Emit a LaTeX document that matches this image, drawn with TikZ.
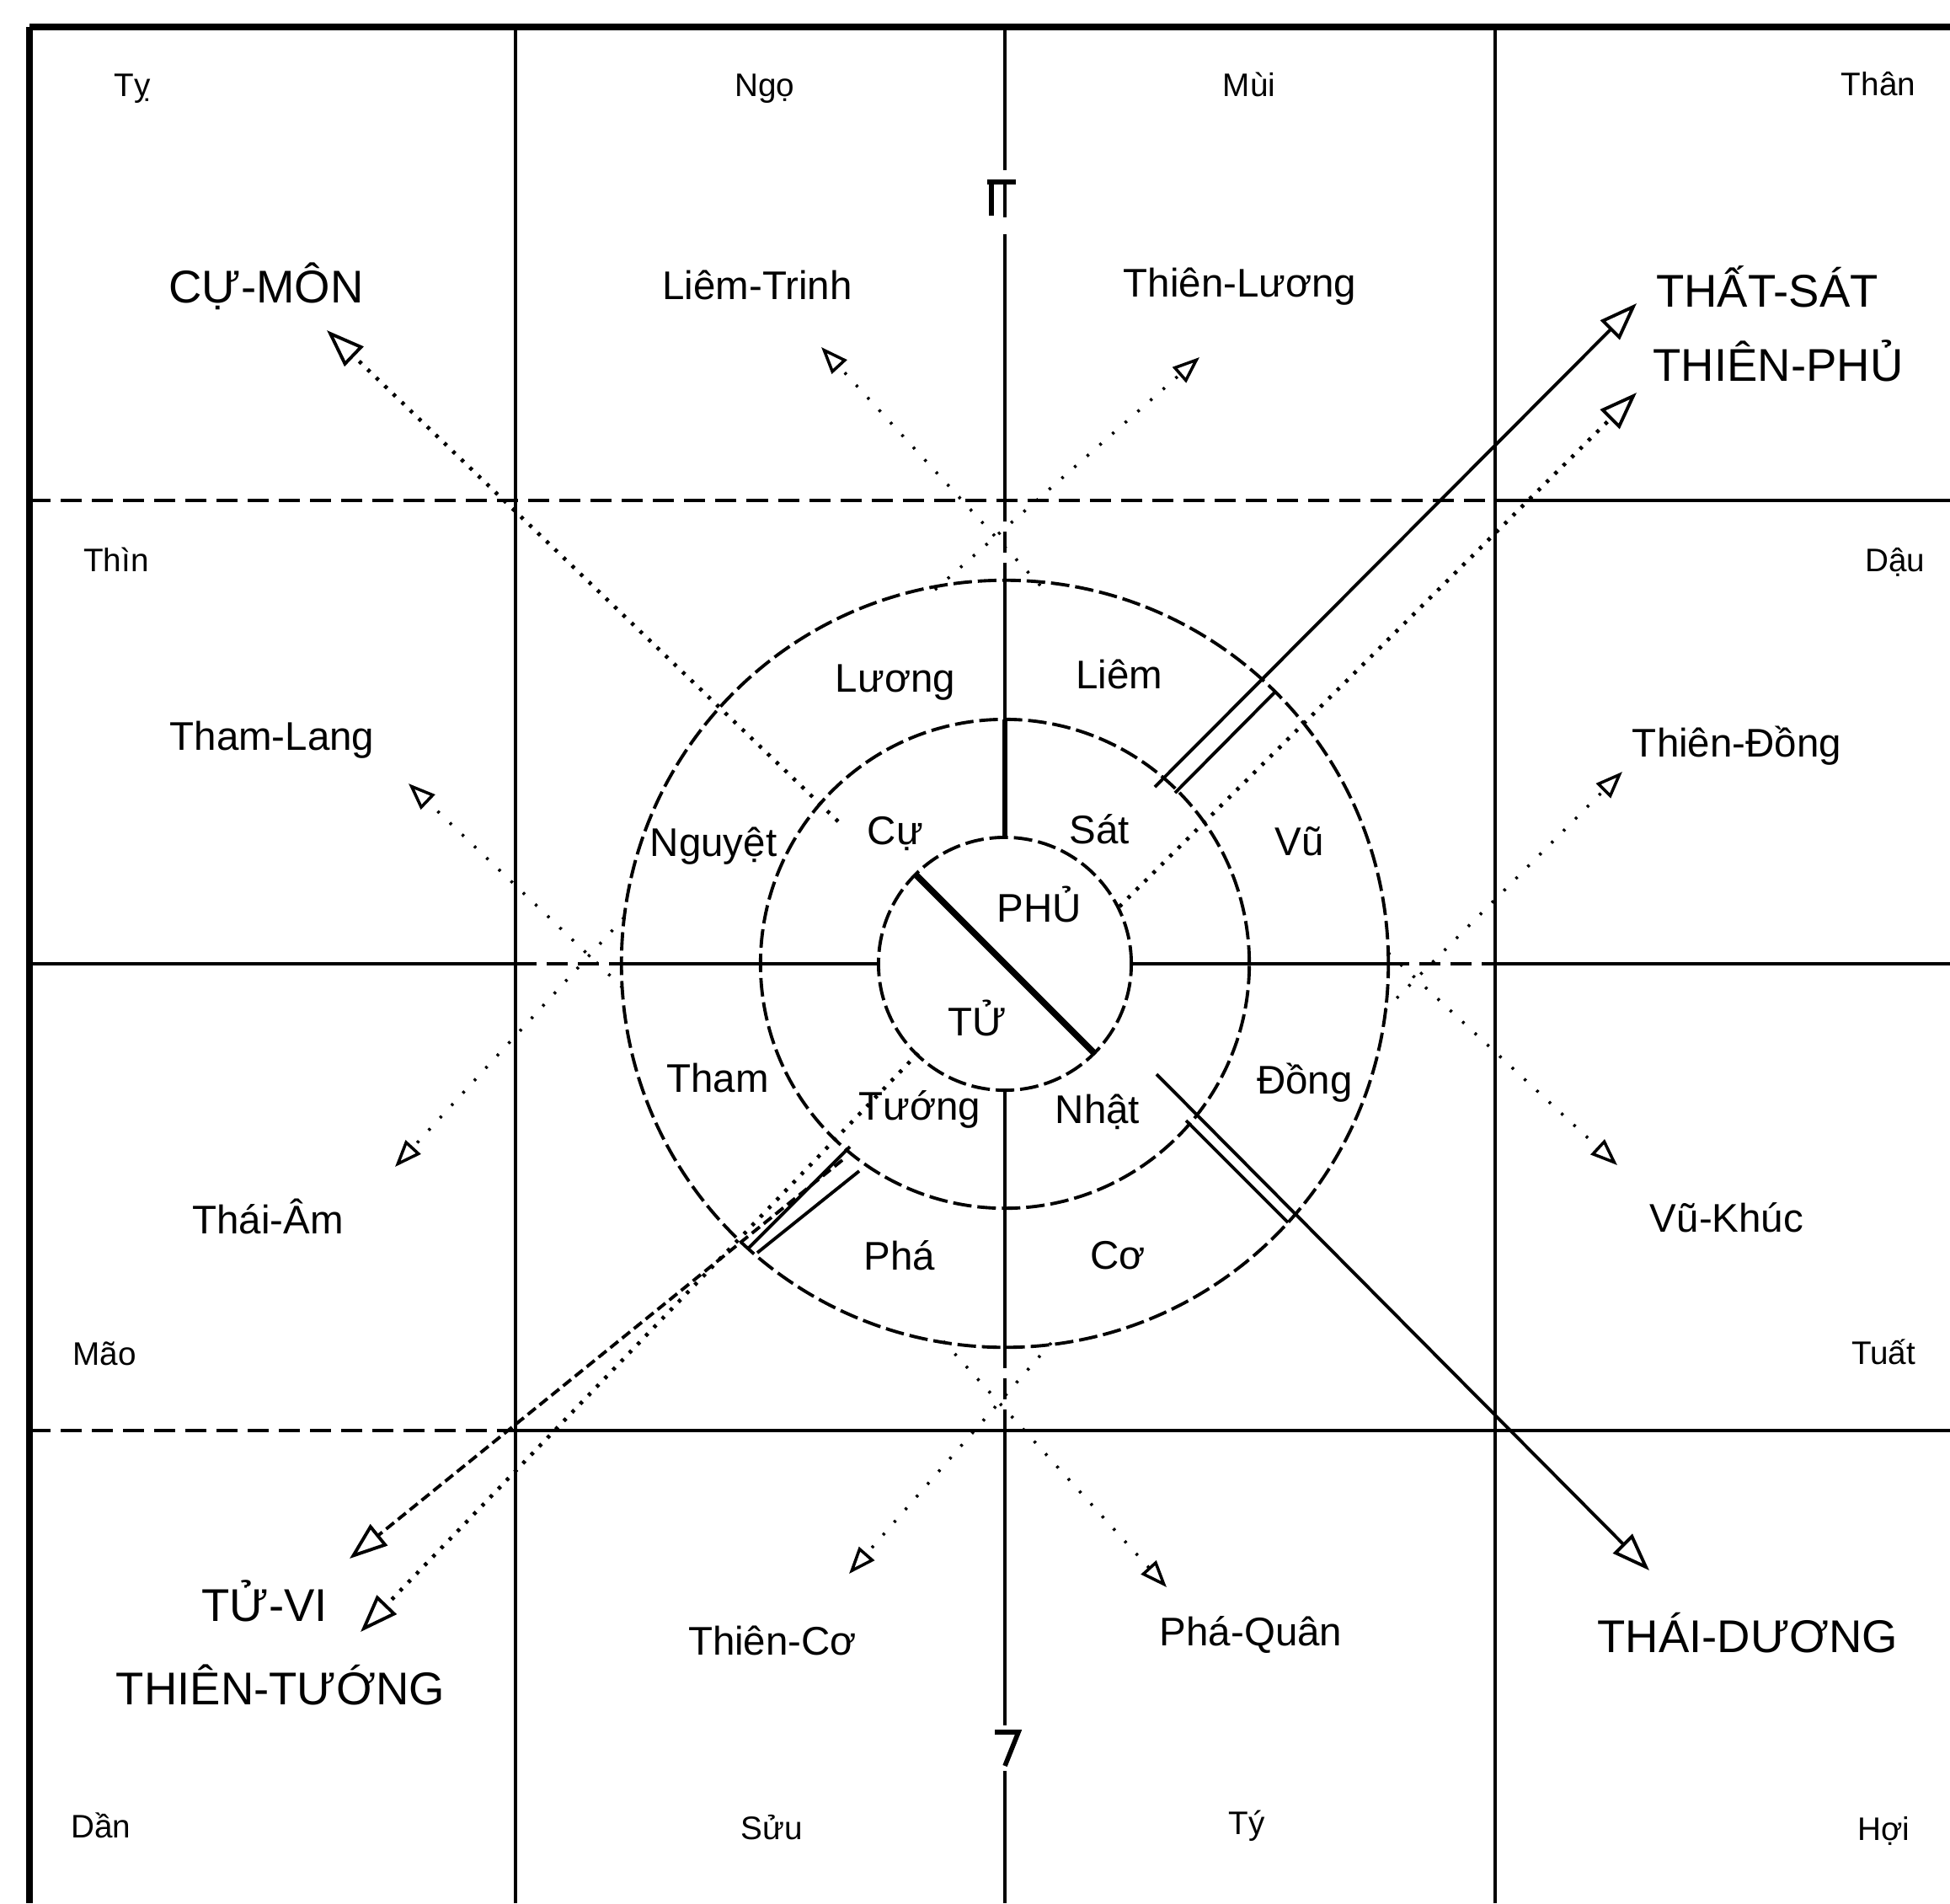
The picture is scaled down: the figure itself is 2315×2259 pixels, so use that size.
\documentclass[tikz,border=0pt]{standalone}
\usepackage{fontspec}
\setmainfont{Liberation Sans}
\usetikzlibrary{arrows.meta}
\begin{document}
\begin{tikzpicture}[x=0.01cm,y=-0.01cm,
  frame/.style={line width=2pt},
  gridline/.style={line width=1.3pt},
  faint/.style={line width=1.1pt, dash pattern=on 0.25cm off 0.12cm},
  ring/.style={line width=1.1pt, dash pattern=on 0.22cm off 0.07cm},
  div/.style={line width=1.1pt},
  star/.style={font=\fontsize{13.5}{16}\selectfont, inner sep=1pt},
  bigstar/.style={font=\fontsize{15.5}{18}\selectfont, inner sep=1pt},
  branch/.style={font=\fontsize{11}{13}\selectfont, inner sep=1pt},
  mainarrow/.style={-{Triangle[open,length=0.45cm,width=0.32cm,line width=1.1pt]}, line width=1.1pt},
  dotarrow/.style={-{Triangle[open,length=0.45cm,width=0.32cm,line width=1.1pt]}, line width=1.3pt, dash pattern=on 0.04cm off 0.1cm},
  dasharrow/.style={-{Triangle[open,length=0.45cm,width=0.32cm,line width=1.1pt]}, line width=1.1pt, dash pattern=on 0.12cm off 0.06cm},
  minor/.style={-{Triangle[open,length=0.32cm,width=0.24cm,line width=1pt]}, line width=1pt, dash pattern=on 0.03cm off 0.17cm}
]
\useasboundingbox (0,0) rectangle (2315,2259);

% ---------------- grid ----------------
\draw[frame] (35,32) -- (2315,32);
\draw[frame] (35,32) -- (35,2259);
\draw[gridline] (612,32) -- (612,2259);
\draw[gridline] (1775,32) -- (1775,2259);
\draw[gridline] (1193,32) -- (1193,202);
\draw[gridline] (1193,216) -- (1193,258);
\draw[gridline] (1193,278) -- (1193,594);
\draw[line width=1.8pt] (1172,216) -- (1206,216);
\draw[line width=1.5pt] (1177,216) -- (1177,256);
\draw[gridline] (1193,1698) -- (1193,2048);
\draw[line width=1.6pt] (1181,2056) -- (1209,2056) -- (1193,2096);
\draw[gridline] (1193,2102) -- (1193,2259);
\draw[faint] (35,594) -- (1775,594);
\draw[gridline] (1775,594) -- (2315,594);
\draw[gridline] (35,1144) -- (612,1144);
\draw[gridline] (1775,1144) -- (2315,1144);
\draw[faint] (35,1698) -- (612,1698);
\draw[gridline] (612,1698) -- (2315,1698);

% ---------------- central wheel ----------------
\coordinate (C) at (1193,1144);
\draw[ring] (C) circle[radius=4.55cm];
\draw[ring] (C) circle[radius=2.9cm];
\draw[ring] (C) circle[radius=1.5cm];

\draw[faint] (1193,594) -- (1193,689);
\draw[div] (1193,689) -- (1193,854);
\draw[line width=1.8pt] (1193,854) -- (1193,994);
\draw[div] (1193,1294) -- (1193,1599);
\draw[faint] (1193,1599) -- (1193,1698);
\draw[faint] (612,1144) -- (738,1144);
\draw[div] (738,1144) -- (1043,1144);
\draw[div] (1343,1144) -- (1648,1144);
\draw[faint] (1648,1144) -- (1775,1144);
\draw[line width=2.2pt] (1087,1038) -- (1299,1250);

% rails across the outer ring
\draw[div] (1395,941) -- (1515,820);
\draw[div] (1408,1330) -- (1529,1451);
\draw[div] (1009,1361) -- (888,1482);
\draw[div] (1020,1390) -- (899,1487);

% ring labels
\node[star] (rLuong) at (1063,810) {Lương};
\node[star] (rLiem) at (1329,800) {Liêm};
\node[star] (rNguyet) at (847,1004) {Nguyệt};
\node[star] (rVu) at (1543,999) {Vũ};
\node[star] (rTham) at (852,1280) {Tham};
\node[star] (rDong) at (1549,1285) {Đồng};
\node[star] (rPha) at (1068,1490) {Phá};
\node[star] (rCo) at (1327,1490) {Cơ};
\node[star] (rCu) at (1063,990) {Cự};
\node[star] (rSat) at (1305,984) {Sát};
\node[star] (rTuong) at (1092,1317) {Tướng};
\node[star] (rNhat) at (1303,1320) {Nhật};
\node[star] (rPhu) at (1234,1073) {PHỦ};
\node[star] (rTu) at (1160,1208) {TỬ};

% ---------------- palace texts ----------------
\node[branch] (bTy) at (157,105) {Tỵ};
\node[branch] (bNgo) at (908,105) {Ngọ};
\node[branch] (bMui) at (1483,100) {Mùi};
\node[branch] (bThan) at (2230,100) {Thân};
\node[branch] (bThin) at (138,664) {Thìn};
\node[branch] (bDau) at (2250,667) {Dậu};
\node[branch] (bMao) at (124,1607) {Mão};
\node[branch] (bTuat) at (2236,1605) {Tuất};
\node[branch] (bDan) at (120,2167) {Dần};
\node[branch] (bSuu) at (916,2169) {Sửu};
\node[branch] (bTi) at (1480,2167) {Tý};
\node[branch] (bHoi) at (2236,2173) {Hợi};

\node[bigstar] (pCuMon) at (316,340) {CỰ-MÔN};
\node[star] (pLiem) at (899,338) {Liêm-Trinh};
\node[star] (pLuong) at (1472,340) {Thiên-Lương};
\node[bigstar] (pSat) at (2098,340) {THẤT-SÁT};
\node[bigstar] (pPhu) at (2111,428) {THIÊN-PHỦ};
\node[star] (pTham) at (323,878) {Tham-Lang};
\node[star] (pDong) at (2062,885) {Thiên-Đồng};
\node[star] (pAm) at (318,1444) {Thái-Âm};
\node[star] (pVu) at (2050,1445) {Vũ-Khúc};
\node[bigstar] (pTuVi) at (314,1900) {TỬ-VI};
\node[bigstar] (pTuong) at (333,2000) {THIÊN-TƯỚNG};
\node[star] (pCo) at (917,1947) {Thiên-Cơ};
\node[star] (pPha) at (1485,1940) {Phá-Quân};
\node[bigstar] (pDuong) at (2075,1938) {THÁI-DƯƠNG};

% ---------------- arrows ----------------
\coordinate (sCu) at (995,975);   \coordinate (tCu) at (388,392);
\coordinate (sSat) at (1371,934); \coordinate (tSat) at (1943,360);
\coordinate (sPhu) at (1329,1076);\coordinate (tPhu) at (1943,466);
\coordinate (sNhat) at (1373,1275);\coordinate (tNhat) at (1958,1864);
\coordinate (sTuong) at (1000,1377);\coordinate (tTuong) at (415,1850);
\coordinate (sTu) at (1090,1250); \coordinate (tTu) at (428,1937);

\draw[dotarrow] (sCu) -- (tCu);
\draw[mainarrow] (sSat) -- (tSat);
\draw[dotarrow] (sPhu) -- (tPhu);
\draw[mainarrow] (sNhat) -- (tNhat);
\draw[dasharrow] (sTuong) -- (tTuong);
\draw[dotarrow] (sTu) -- (tTu);

\coordinate (sLuong) at (1110,700);  \coordinate (tLuong) at (1424,424);
\coordinate (sLiem) at (1235,695);   \coordinate (tLiem) at (975,412);
\coordinate (sNguyet) at (741,1089); \coordinate (tNguyet) at (469,1385);
\coordinate (sTham) at (739,1172);   \coordinate (tTham) at (485,930);
\coordinate (sVu) at (1648,1131);    \coordinate (tVu) at (1920,1383);
\coordinate (sDong) at (1644,1199);  \coordinate (tDong) at (1926,916);
\coordinate (sCo) at (1248,1594);    \coordinate (tCo) at (1008,1868);
\coordinate (sPha) at (1120,1592);   \coordinate (tPha) at (1385,1884);

\draw[minor] (sLuong) -- (tLuong);
\draw[minor] (sLiem) -- (tLiem);
\draw[minor] (sNguyet) -- (tNguyet);
\draw[minor] (sTham) -- (tTham);
\draw[minor] (sVu) -- (tVu);
\draw[minor] (sDong) -- (tDong);
\draw[minor] (sCo) -- (tCo);
\draw[minor] (sPha) -- (tPha);
\end{tikzpicture}
\end{document}
